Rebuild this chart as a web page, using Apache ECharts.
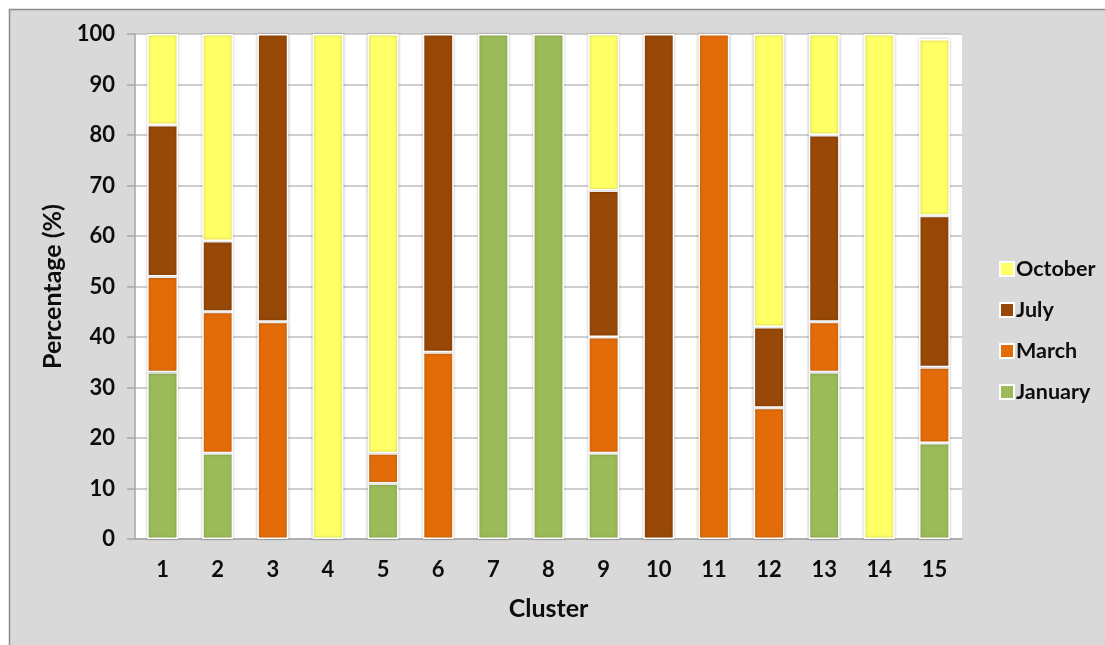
<!DOCTYPE html>
<html>
<head>
<meta charset="utf-8">
<script src="https://cdn.jsdelivr.net/npm/echarts@6/dist/echarts.min.js"></script>
<style>
  html, body { margin: 0; padding: 0; background: #fff; }
  #chart { width: 1105px; height: 645px; }
</style>
</head>
<body>
<div id="chart"></div>
<script>
const clusters = ['1', '2', '3', '4', '5', '6', '7', '8', '9', '10', '11', '12', '13', '14', '15']
const january = [33, 17, 0, 0, 11, 0, 100, 100, 17, 0, 0, 0, 33, 0, 19]
const march = [19, 28, 43, 0, 6, 37, 0, 0, 23, 0, 100, 26, 10, 0, 15]
const july = [30, 14, 57, 0, 0, 63, 0, 0, 29, 100, 0, 16, 37, 0, 30]
const october = [18, 41, 0, 100, 83, 0, 0, 0, 31, 0, 0, 58, 20, 100, 35]

const font = 'Lato, "Open Sans", sans-serif'
const seriesList = [
  { name: 'January', data: january, color: '#9bbb59' },
  { name: 'March', data: march, color: '#e36c09' },
  { name: 'July', data: july, color: '#984807' },
  { name: 'October', data: october, color: '#ffff66' },
]

const chart = echarts.init(document.getElementById('chart'))

const option = {
  backgroundColor: '#fff',
  animation: false,
  graphic: [
    {
      type: 'rect',
      z: -10,
      silent: true,
      shape: { x: 9.5, y: 9.5, width: 1110, height: 650 },
      style: { fill: '#d9d9d9', stroke: '#8c8c8c', lineWidth: 1.5 },
    },
  ],
  legend: {
    orient: 'vertical',
    left: 994,
    top: 253,
    itemWidth: 14,
    itemHeight: 14,
    itemGap: 19,
    icon: 'rect',
    data: ['October', 'July', 'March', 'January'],
    textStyle: { color: '#0d0d0d', fontSize: 21.5, fontWeight: 'bold', fontFamily: font, padding: [0, 0, 0, -3] },
  },
  grid: {
    left: 135,
    right: 143,
    top: 34,
    bottom: 106,
    show: true,
    backgroundColor: '#fff',
    borderWidth: 0,
  },
  xAxis: {
    type: 'category',
    data: clusters,
    name: 'Cluster',
    nameLocation: 'middle',
    nameGap: 57,
    nameTextStyle: { color: '#0d0d0d', fontSize: 25, fontWeight: 'bold', fontFamily: font },
    axisLine: { lineStyle: { color: '#a6a6a6', width: 1.5 } },
    axisTick: { show: false },
    axisLabel: { color: '#0d0d0d', fontSize: 22, fontWeight: 'bold', fontFamily: font, margin: 20 },
  },
  yAxis: {
    type: 'value',
    min: 0,
    max: 100,
    interval: 10,
    name: 'Percentage (%)',
    nameLocation: 'middle',
    nameGap: 64,
    nameTextStyle: { color: '#0d0d0d', fontSize: 25, fontWeight: 'bold', fontFamily: font },
    axisLine: { show: true, lineStyle: { color: '#a6a6a6', width: 1.5 } },
    axisTick: { show: true, length: 8, lineStyle: { color: '#a6a6a6', width: 1.5 } },
    axisLabel: { color: '#0d0d0d', fontSize: 22, fontWeight: 'bold', fontFamily: font, margin: 20 },
    splitLine: { lineStyle: { color: '#bfbfbf', width: 1.5 } },
  },
  series: seriesList.map(s => ({
    name: s.name,
    type: 'bar',
    stack: 'total',
    barWidth: '56%',
    // empty segments are left out so they draw no border
    data: s.data.map(v => (v === 0 ? null : v)),
    itemStyle: {
      color: s.color,
      borderColor: '#fff',
      borderWidth: 1.5,
      shadowColor: 'rgba(0, 0, 0, 0.25)',
      shadowBlur: 3,
    },
  })),
}

chart.setOption(option)
</script>
</body>
</html>
